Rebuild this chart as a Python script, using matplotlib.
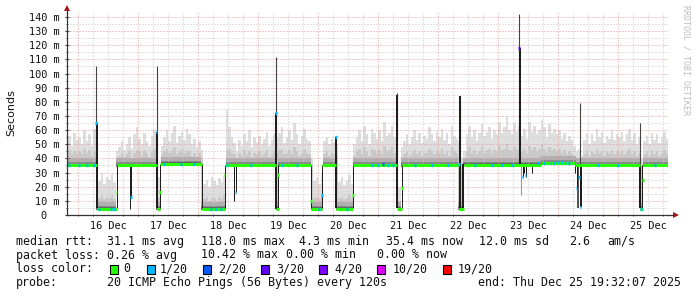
import numpy as np
import matplotlib
matplotlib.use("Agg")
from matplotlib import pyplot as plt
from matplotlib.patches import Rectangle

W, H = 697, 297
MONO = "DejaVu Sans Mono"

# time in hours after 16 Dec 00:00, one smoke column per hour (-5 .. 235)
hours = np.arange(-5, 236)

# highest ping per hour (ms)
smoke_top = [
    52, 56, 49, 58, 53,
    55, 50, 60, 52, 57, 49, 61, 58, 24, 30, 22, 27, 25, 29, 23, 45, 48, 52, 46, 50, 55, 47, 57, 62,
    54, 50, 58, 52, 49, 56, 60, 58, 27, 49, 55, 60, 52, 58, 63, 51, 56, 59, 53, 61, 57, 50, 54, 48,
    52, 46, 22, 25, 20, 27, 24, 21, 26, 23, 28, 74, 62, 55, 51, 45, 53, 49, 57, 52, 60, 48, 55, 51,
    56, 50, 54, 59, 49, 53, 57, 55, 58, 62, 51, 55, 60, 53, 65, 57, 50, 56, 61, 54, 52, 40, 24, 27,
    22, 30, 52, 55, 50, 54, 51, 50, 23, 27, 21, 25, 28, 22, 50, 55, 60, 52, 63, 57, 50, 61, 58, 54,
    60, 52, 66, 56, 58, 63, 55, 59, 20, 48, 52, 57, 50, 55, 60, 53, 58, 51, 56, 54, 62, 57, 52, 59,
    55, 61, 53, 58, 50, 63, 56, 54, 52, 40, 45, 57, 63, 55, 60, 52, 58, 64, 56, 59, 62, 54, 60, 57,
    66, 58, 62, 70, 60, 57, 65, 59, 63, 56, 61, 54, 66, 59, 63, 57, 60, 67, 62, 55, 64, 58, 61, 57,
    60, 54, 58, 52, 56, 53, 49, 45, 47, 42, 53, 58, 50, 57, 52, 61, 55, 59, 51, 56, 54, 60, 53, 57,
    55, 59, 52, 57, 61, 53, 58, 50, 55, 40, 52, 56, 50, 58, 53, 57, 51, 55, 59, 54,
]

# upper edge of the denser part of the smoke (ms)
smoke_mid = [
    44, 46, 43, 45, 44,
    45, 43, 47, 44, 46, 42, 45, 46, 12, 14, 11, 13, 12, 14, 11, 38, 42, 44, 41, 43, 45, 40, 44, 46,
    45, 42, 46, 44, 41, 45, 47, 45, 12, 43, 45, 47, 44, 46, 48, 43, 45, 47, 44, 46, 45, 42, 44, 41,
    44, 40, 11, 13, 10, 12, 12, 10, 13, 11, 14, 46, 47, 44, 43, 40, 44, 42, 46, 43, 45, 41, 44, 43,
    45, 42, 44, 46, 41, 43, 45, 44, 46, 47, 43, 44, 46, 43, 48, 45, 42, 44, 47, 44, 43, 36, 12, 13,
    11, 14, 43, 45, 42, 44, 43, 42, 12, 13, 11, 12, 14, 11, 42, 45, 47, 43, 48, 45, 42, 47, 46, 44,
    46, 43, 49, 45, 46, 48, 44, 46, 10, 41, 43, 45, 42, 44, 46, 43, 45, 42, 44, 44, 47, 45, 43, 46,
    44, 47, 43, 45, 42, 48, 45, 44, 42, 36, 38, 45, 48, 44, 46, 43, 45, 48, 44, 46, 47, 44, 46, 45,
    49, 46, 47, 50, 46, 45, 48, 46, 47, 45, 47, 44, 49, 46, 48, 45, 47, 50, 47, 44, 48, 46, 47, 45,
    47, 44, 46, 43, 45, 43, 41, 38, 39, 36, 43, 46, 42, 45, 43, 47, 44, 46, 42, 45, 44, 46, 43, 45,
    44, 46, 43, 45, 47, 43, 45, 42, 44, 34, 43, 45, 42, 46, 43, 45, 42, 44, 46, 44,
]

# median rtt, as steps (start hour, ms)
med_start = [-5, 7.4, 15.5, 31.5, 32.9, 49.5, 58.7, 79.3, 80.2, 93.3, 97.7, 103.3, 110.1,
             127.7, 129.5, 152.4, 154.4, 185.0, 198.9, 224.9, 225.9]
med_value = [35, 4.5, 35, 4.5, 36, 4.5, 35, 4.5, 35, 4.5, 35, 4.5, 35,
             4.5, 35, 4.5, 35.5, 36.5, 35, 4.5, 35]
med_end = 236

# transitions where the smoke spans both levels (hour, low ms, high ms, width)
bar_t = [7.4, 15.4, 20.8, 21.3, 31.4, 32.8, 49.4, 58.6, 62.3, 63.0, 79.2, 80.1, 93.2, 97.6,
         103.2, 110.0, 127.6, 129.4, 152.6, 154.0, 176.6, 177.8, 178.4, 179.0, 181.4, 198.7,
         199.4, 199.8, 201.0, 224.8, 225.6]
bar_lo = [5, 5, 4, 13, 5, 5, 5, 5, 10, 16, 4, 5, 5, 5,
          5, 5, 5, 5, 5, 5, 35, 27, 30, 27, 30, 30,
          19, 5, 6, 5, 5]
bar_hi = [65, 35, 35, 35, 59, 36, 36, 35, 35, 35, 72, 35, 35, 35,
          55, 35, 85, 35, 84, 36, 118, 35, 35, 35, 35, 35,
          35, 35, 35, 35, 35]
bar_w = [2, 1, 1, 1, 2, 1, 1, 1, 1, 1, 2, 1, 1, 1,
         2, 1, 2, 1, 2, 2, 2, 1, 1, 1, 1, 1,
         1, 1.5, 2, 2, 1]

# single max pings
spike_t = [7.3, 31.6, 79.2, 127.6, 152.8, 176.5, 200.6, 224.8]
spike_hi = [105, 105, 112, 86, 84, 142, 79, 65]

# median samples with packet loss (hour, ms, loss class)
loss_t = [-3.6, 0.4, 3.6, 6.4, 7.3, 8.4, 13.1, 14.4, 15.4, 21.3, 31.4, 32.8, 34.4, 41.1, 46.4,
          53.1, 55.1, 57.1, 58.6, 59.7, 63.0, 69.1, 79.2, 80.0, 81.7, 87.7, 93.2, 96.4, 97.6,
          103.2, 107.7, 110.0, 117.5, 120.1, 122.1, 124.1, 126.1, 129.5, 134.8, 141.5, 148.1,
          152.4, 158.8, 165.5, 169.5, 173.5, 176.5, 177.8, 179.0, 184.0, 186.5, 189.0, 190.5,
          192.0, 193.5, 195.0, 196.5, 199.4, 200.5, 201.0, 208.1, 216.1, 225.2, 225.9, 230.8]
loss_v = [35, 35, 35, 35, 65, 4.5, 4.5, 4.5, 16, 13, 59, 16, 36, 36, 36,
          4.5, 4.5, 4.5, 28, 35, 16.5, 35, 72, 28, 35, 35, 10, 4.5, 14,
          55, 4.5, 14, 35, 35, 36, 35, 35, 19, 35, 35, 35,
          36, 35.5, 35.5, 35.5, 35.5, 118, 27, 28, 36.5, 37, 37, 37,
          37.5, 37.5, 37, 37, 19, 27, 6, 35, 35, 4.5, 25, 35]
loss_c = [1, 1, 1, 1, 1, 1, 1, 1, 0, 1, 1, 0, 1, 1, 1,
          1, 1, 1, 0, 1, 1, 1, 1, 0, 1, 1, 0, 1, 1,
          1, 1, 0, 1, 1, 2, 1, 1, 0, 1, 1, 1,
          1, 1, 1, 1, 1, 3, 1, 1, 1, 1, 1, 1,
          1, 1, 1, 1, 1, 1, 1, 1, 1, 1, 0, 1]

loss_colors = ["#26ff00", "#00b8ff", "#0059ff", "#5e00ff", "#7e00ff", "#dd00ff", "#ff0000"]
loss_names = ["0", "1/20", "2/20", "3/20", "4/20", "10/20", "19/20"]

y_ticks = [0, 10, 20, 30, 40, 50, 60, 70, 80, 90, 100, 110, 120, 130, 140]
y_labels = ["0  ", "10 m", "20 m", "30 m", "40 m", "50 m", "60 m", "70 m", "80 m",
            "90 m", "100 m", "110 m", "120 m", "130 m", "140 m"]
day_noons = [12, 36, 60, 84, 108, 132, 156, 180, 204, 228]
day_labels = ["16 Dec", "17 Dec", "18 Dec", "19 Dec", "20 Dec",
              "21 Dec", "22 Dec", "23 Dec", "24 Dec", "25 Dec"]

fig = plt.figure(figsize=(W / 100, H / 100), dpi=100)
fig.patch.set_facecolor("white")
ax = fig.add_axes([67 / W, 1 - 215 / H, 601 / W, 202 / H])
ax.set_xlim(-4.4, 236.0)
ax.set_ylim(0, 142.8)

# smoke
edges = np.append(hours, hours[-1] + 1)
idx = np.searchsorted(med_start, hours + 0.5, side="right") - 1
base = np.array(med_value)[idx]
top = np.array(smoke_top, dtype=float)
mid = np.array(smoke_mid, dtype=float)
ax.stairs(top, edges, baseline=base, fill=True, color="#dedede", lw=0, zorder=1)
ax.stairs(mid, edges, baseline=base, fill=True, color="#c9c9c9", lw=0, zorder=1.1)
ax.stairs(base + 5, edges, baseline=base, fill=True, color="#b0b0b0", lw=0, zorder=1.2)
ax.stairs(base + 2.2, edges, baseline=base, fill=True, color="#8a8a8a", lw=0, zorder=1.3)
ax.stairs(base + 1.2, edges, baseline=base - 0.8, fill=True, color="#666666", lw=0, zorder=1.4)

# grid (drawn over the smoke, like rrdtool)
dots = (0, (1, 2))
for v in np.arange(5, 141, 5):
    c = "#e49a9a" if v % 10 == 0 else "#c8c8c8"
    ax.axhline(v, color=c, lw=0.72, ls=dots, zorder=2)
for h in np.arange(0, 236, 6):
    c = "#e49a9a" if h % 24 == 0 else "#c8c8c8"
    ax.axvline(h, color=c, lw=0.72, ls=dots, zorder=2)

# spikes and transition bars
for t, hi in zip(spike_t, spike_hi):
    ax.vlines(t, 35, hi, color="#444444", lw=0.8, zorder=3)
ax.vlines(177.0, 14, 35, color="#999999", lw=0.8, zorder=3)
for t, lo, hi, w in zip(bar_t, bar_lo, bar_hi, bar_w):
    ax.vlines(t, lo, hi, color="#1e1e1e", lw=w * 0.72, zorder=3.2)

# median line
for i in range(len(med_start)):
    x1 = med_start[i + 1] if i + 1 < len(med_start) else med_end
    ax.hlines(med_value[i], med_start[i], x1, color=loss_colors[0], lw=2.2, zorder=4,
              capstyle="butt")
for t, v, c in zip(loss_t, loss_v, loss_c):
    ax.hlines(v, t - 0.35, t + 0.35, color=loss_colors[c], lw=2.4, zorder=5, capstyle="butt")

# axes
for s in ["top", "right"]:
    ax.spines[s].set_visible(False)
for s in ["left", "bottom"]:
    ax.spines[s].set_color("#333333")
    ax.spines[s].set_linewidth(0.9)
    ax.spines[s].set_zorder(6)
ax.plot([1.0, 1.0 + 6 / 601], [0, 0], transform=ax.transAxes, color="#333333", lw=0.9,
        clip_on=False, zorder=6)
ax.plot([0, 0], [1.0, 1.0 + 4 / 202], transform=ax.transAxes, color="#333333", lw=0.9,
        clip_on=False, zorder=6)
ax.plot([1.0 + 8 / 601], [0], marker=">", ms=4.5, color="#a31515", transform=ax.transAxes,
        clip_on=False, zorder=7, mew=0)
ax.plot([0], [1.0 + 5 / 202], marker="^", ms=4.5, color="#a31515", transform=ax.transAxes,
        clip_on=False, zorder=7, mew=0)

ax.set_xticks(day_noons, labels=day_labels)
ax.set_xticks(np.arange(0, 236, 6), minor=True)
ax.set_yticks(y_ticks, labels=y_labels)
ax.set_yticks(np.arange(5, 141, 10), minor=True)
ax.tick_params(axis="x", which="major", length=0, pad=4.5)
ax.tick_params(axis="both", which="minor", length=2, direction="inout", color="#333333")
ax.tick_params(axis="y", which="major", length=3, direction="inout", color="#333333", pad=4)
for lab in ax.get_xticklabels() + ax.get_yticklabels():
    lab.set_fontfamily(MONO)
    lab.set_fontsize(7.4)
    lab.set_color("#111111")

fig.text(11 / W, 1 - 113 / H, "Seconds", rotation=90, ha="center", va="center",
         fontsize=8, family="DejaVu Sans", color="#111111")
fig.text(686 / W, 1 - 5 / H, "RRDTOOL / TOBI OETIKER", rotation=270, ha="center", va="top",
         fontsize=6, family=MONO, color="#bdbdbd")


def put(x, y, s):
    fig.text(x / W, 1 - y / H, s, ha="left", va="center", fontsize=8.4, family=MONO,
             color="#111111")


rows = [241.5, 255.0, 269.0, 282.8]
put(16, rows[0], "median rtt:")
put(107.3, rows[0], "31.1 ms avg")
put(200.7, rows[0], "118.0 ms max")
put(299.3, rows[0], "4.3 ms min")
put(386, rows[0], "35.4 ms now")
put(479.3, rows[0], "12.0 ms sd")
put(569.3, rows[0], "2.6")
put(607.3, rows[0], "am/s")

put(16, rows[1], "packet loss:")
put(107.3, rows[1], "0.26 % avg")
put(200.7, rows[1], "10.42 % max")
put(286, rows[1], "0.00 % min")
put(376.7, rows[1], "0.00 % now")

put(16, rows[2], "loss color:")
box_x = [110, 147, 203, 261, 319, 377, 443]
text_x = [123.3, 160, 218.3, 276.7, 334, 392.7, 457.3]
for bx, tx, c, name in zip(box_x, text_x, loss_colors, loss_names):
    fig.patches.append(Rectangle((bx / W, 1 - (rows[2] + 4.5) / H), 8 / W, 9 / H,
                                 transform=fig.transFigure, facecolor=c,
                                 edgecolor="black", lw=0.8))
    put(tx, rows[2], name)

put(16, rows[3], "probe:")
put(107.3, rows[3], "20 ICMP Echo Pings (56 Bytes) every 120s")
put(478.3, rows[3], "end: Thu Dec 25 19:32:07 2025")

fig.savefig("out.png", dpi=100, facecolor="white")
